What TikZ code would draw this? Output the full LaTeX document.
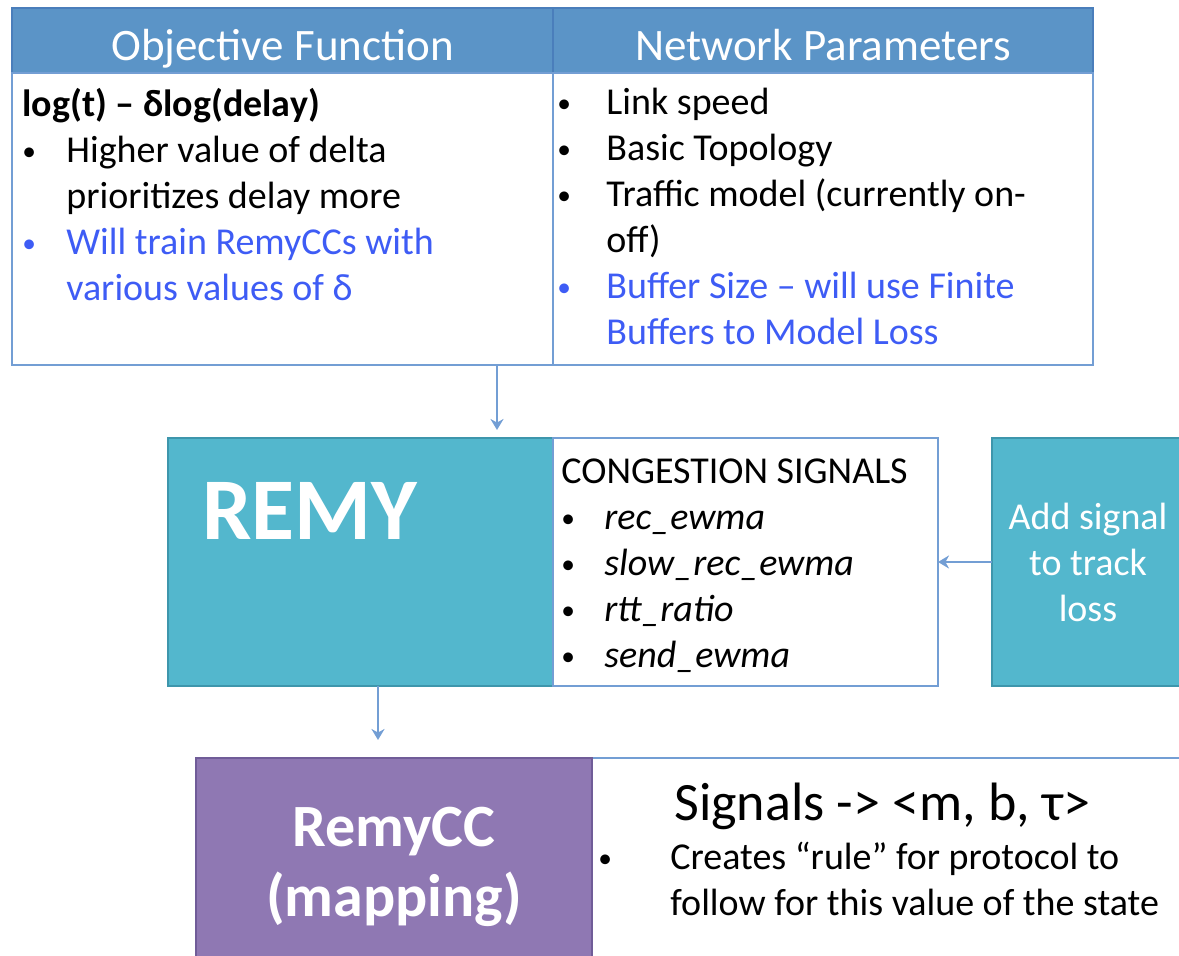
\documentclass[tikz,border=0pt]{standalone}
\usepackage{fontspec}
\setmainfont{Carlito}
\usepackage{xcolor}
\usetikzlibrary{positioning,arrows.meta}

\definecolor{headblue}{RGB}{91,148,199}
\definecolor{headline}{RGB}{74,126,187}
\definecolor{lineblue}{RGB}{115,158,212}
\definecolor{textblue}{RGB}{62,92,245}
\definecolor{remyteal}{RGB}{83,183,205}
\definecolor{tealline}{RGB}{62,150,172}
\definecolor{ccpurple}{RGB}{143,120,179}
\definecolor{purpline}{RGB}{112,92,152}

\newcommand{\bul}[1][22pt]{\makebox[#1][l]{\raisebox{1pt}{\scalebox{0.72}{\textbullet}}}}

\begin{document}
\begin{tikzpicture}[x=0.5pt,y=-0.5pt,
    box/.style={draw=lineblue,line width=1.4pt,inner sep=0pt,outer sep=0pt},
    head/.style={box,draw=headline,fill=headblue,text=white,
      font=\fontsize{22.5}{27}\selectfont,minimum height=32.5pt,
      text height=20.5pt,text depth=0pt},
    list/.style={align=left,inner sep=0pt,font=\fontsize{19}{23}\selectfont},
    arr/.style={draw=lineblue,line width=1.2pt,-{Stealth[length=5.5pt,width=6.5pt]}},
    node distance=0pt
  ]
  \useasboundingbox (0,0) rectangle (1179,956);

  % inputs
  \node[head,anchor=north west,minimum width=270.5pt] (objhead) at (12,8) {Objective Function};
  \node[head,right=of objhead,minimum width=270pt] (nethead) {Network Parameters};
  \node[box,below=of objhead,minimum width=270.5pt,minimum height=146pt] (objbody) {};
  \node[box,below=of nethead,minimum width=270pt,minimum height=146pt] (netbody) {};
  \node[list,anchor=north west] (objtext) at ([xshift=5pt,yshift=-7.5pt]objbody.north west)
    {\textbf{log(t) – δlog(delay)}\\
     \bul Higher value of delta\\
     \hspace*{22pt}prioritizes delay more\\
     \textcolor{textblue}{\bul Will train RemyCCs with}\\
     \hspace*{22pt}\textcolor{textblue}{various values of δ}};
  \node[list,anchor=north west] (nettext) at ([xshift=2pt,yshift=-7.5pt]netbody.north west)
    {\bul[24.5pt]Link speed\\
     \bul[24.5pt]Basic Topology\\
     \bul[24.5pt]Traffic model (currently on-\\
     \hspace*{24.5pt}off)\\
     \textcolor{textblue}{\bul[24.5pt]Buffer Size – will use Finite}\\
     \hspace*{24.5pt}\textcolor{textblue}{Buffers to Model Loss}};

  % remy
  \node[box,draw=tealline,fill=remyteal,anchor=north west,minimum width=192.5pt,minimum height=124pt] (remy) at (168,438) {};
  \node[box,right=of remy,minimum width=192.5pt,minimum height=124pt] (sigbox) {};
  \node[anchor=base west,inner sep=0pt,text=white,font=\fontsize{44}{50}\selectfont\bfseries] (remylbl)
    at ([xshift=17pt,yshift=-51pt]remy.north west) {REMY};
  \node[list,anchor=north west] (sigtext) at ([xshift=4pt,yshift=-10pt]sigbox.north west)
    {CONGESTION SIGNALS\\
     \bul[21.5pt]\textit{rec\_ewma}\\
     \bul[21.5pt]\textit{slow\_rec\_ewma}\\
     \bul[21.5pt]\textit{rtt\_ratio}\\
     \bul[21.5pt]\textit{send\_ewma}};
  \node[box,draw=tealline,fill=remyteal,anchor=north west,minimum width=96pt,minimum height=124pt,
    text=white,align=center,font=\fontsize{19}{23}\selectfont] (addsig) at (992,438)
    {Add signal\\to track\\loss};

  % mapping
  \node[box,anchor=north west,minimum width=296.5pt,minimum height=108.5pt] (rulebox) at (592,758) {};
  \node[box,draw=purpline,fill=ccpurple,left=of rulebox,minimum width=198pt,minimum height=108.5pt,
    text=white,align=center,font=\fontsize{30}{35}\selectfont\bfseries] (remycc) {RemyCC\\(mapping)};
  \node[anchor=base west,inner sep=0pt,font=\fontsize{27}{32}\selectfont] (maptitle)
    at ([xshift=41pt,yshift=-31pt]rulebox.north west) {Signals -> <m, b, τ>};
  \node[list,anchor=north west] (maplist) at ([xshift=3pt,yshift=-42pt]rulebox.north west)
    {\bul[36pt]Creates “rule” for protocol to\\
     \hspace*{36pt}follow for this value of the state};

  % arrows
  \coordinate (in1) at ([xshift=-28pt]remy.north east);
  \coordinate (out1) at ([xshift=8.75pt]remy.south);
  \draw[arr,shorten >=4pt] (in1 |- objbody.south) -- (in1);
  \draw[arr] (addsig.west) -- (sigbox.east);
  \draw[arr,shorten >=9pt] (out1) -- (out1 |- remycc.north);
\end{tikzpicture}
\end{document}
